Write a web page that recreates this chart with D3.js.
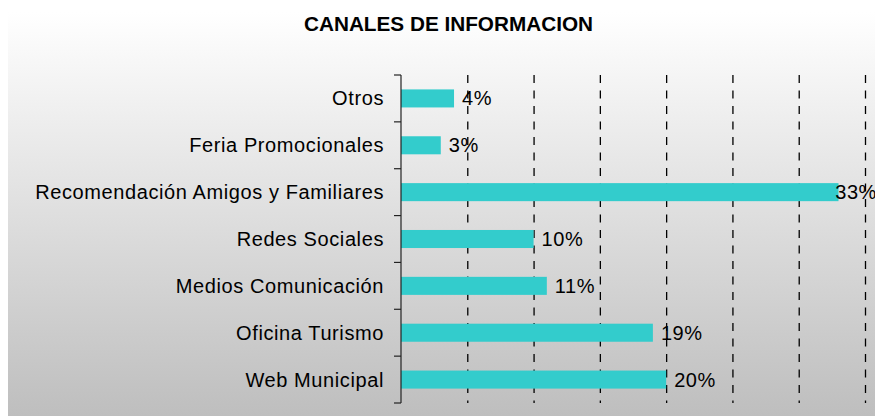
<!DOCTYPE html>
<html lang="es">

<head>
    <meta charset="UTF-8">
    <title>Canales de informacion</title>
    <script src="https://d3js.org/d3.v7.min.js"></script>
    <style>
        body {
            margin: 0;
            background: #fff;
        }

        .cat,
        .val {
            font-family: "Liberation Sans", Arial, sans-serif;
            font-size: 20px;
            letter-spacing: 0.6px;
            fill: #000;
        }

        .title {
            font-family: "Liberation Sans", Arial, sans-serif;
            font-size: 21px;
            font-weight: bold;
        }
    </style>
</head>

<body>
    <svg id="chart" width="875" height="416"></svg>
    <script>
        // data, top to bottom
        const categories = [
            "Otros",
            "Feria Promocionales",
            "Recomendación Amigos y Familiares",
            "Redes Sociales",
            "Medios Comunicación",
            "Oficina Turismo",
            "Web Municipal"
        ];
        const values = [4, 3, 33, 10, 11, 19, 20];
        const gridTicks = [5, 10, 15, 20, 25, 30, 35];

        const width = 875;
        const height = 416;
        const plot = { left: 401, right: 865, top: 75, bottom: 403 };

        const svg = d3.select("#chart");

        // background gradient of the chart area
        const grad = svg.append("defs").append("linearGradient")
            .attr("id", "bg")
            .attr("x1", 0).attr("y1", 0).attr("x2", 0).attr("y2", 1);
        grad.append("stop").attr("offset", "0%").attr("stop-color", "#ffffff");
        grad.append("stop").attr("offset", "100%").attr("stop-color", "#bebebe");

        svg.append("rect")
            .attr("x", 8)
            .attr("y", 12)
            .attr("width", width - 8)
            .attr("height", height - 12)
            .attr("fill", "url(#bg)");

        svg.append("text")
            .attr("class", "title")
            .attr("x", 448.5)
            .attr("y", 31)
            .attr("text-anchor", "middle")
            .attr("textLength", 289)
            .attr("lengthAdjust", "spacingAndGlyphs")
            .text("CANALES DE INFORMACION");

        const x = d3.scaleLinear()
            .domain([0, 35])
            .range([plot.left, plot.right]);

        const y = d3.scaleBand()
            .domain(categories)
            .range([plot.top, plot.bottom])
            .paddingInner(0.615)
            .paddingOuter(0.3075);

        // dashed vertical gridlines
        svg.append("g")
            .attr("transform", `translate(0,${plot.top})`)
            .call(d3.axisBottom(x).tickValues(gridTicks).tickSize(plot.bottom - plot.top).tickFormat(""))
            .call(g => g.select(".domain").remove())
            .call(g => g.selectAll(".tick line")
                .attr("stroke", "#000")
                .attr("stroke-width", 1.3)
                .attr("stroke-dasharray", "8,7.5"));

        // bars
        svg.append("g")
            .selectAll("rect")
            .data(categories)
            .join("rect")
            .attr("x", x(0))
            .attr("y", d => y(d))
            .attr("width", (d, i) => x(values[i]) - x(0))
            .attr("height", y.bandwidth())
            .attr("fill", "#33cccc");

        // value labels (pulled back a little if they would run past the edge)
        svg.append("g")
            .selectAll("text")
            .data(categories)
            .join("text")
            .attr("class", "val")
            .attr("y", d => y(d) + y.bandwidth() / 2 + 7)
            .text((d, i) => values[i] + "%")
            .attr("x", function (d, i) {
                const len = this.getComputedTextLength();
                return Math.min(x(values[i]) + 8, width - len + 2);
            });

        // category axis: line + ticks between bands
        const step = y.step();
        const bounds = d3.range(categories.length + 1).map(i => plot.top + i * step);
        const axis = svg.append("g").attr("stroke", "#222").attr("stroke-width", 1.2);
        axis.append("line")
            .attr("x1", plot.left).attr("x2", plot.left)
            .attr("y1", plot.top).attr("y2", plot.bottom);
        axis.selectAll(".tk")
            .data(bounds)
            .join("line")
            .attr("class", "tk")
            .attr("x1", plot.left - 7).attr("x2", plot.left)
            .attr("y1", d => d).attr("y2", d => d);

        svg.append("g")
            .selectAll("text")
            .data(categories)
            .join("text")
            .attr("class", "cat")
            .attr("x", plot.left - 17)
            .attr("y", d => y(d) + y.bandwidth() / 2 + 7)
            .attr("text-anchor", "end")
            .text(d => d);
    </script>
</body>

</html>
